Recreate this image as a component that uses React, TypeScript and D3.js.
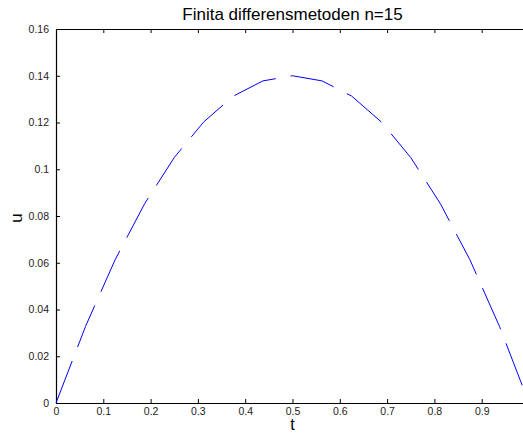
import React, {useEffect, useRef} from 'react'
import * as d3 from 'd3'

const width = 523
const height = 434
const margin = {top: 29, left: 56, plotRight: 529, bottom: 403}

// t = i/16, i = 0..16 (n=15 inre punkter)
const tValues = [
  0, 0.0625, 0.125, 0.1875, 0.25, 0.3125, 0.375, 0.4375, 0.5, 0.5625, 0.625,
  0.6875, 0.75, 0.8125, 0.875, 0.9375, 1,
]
const uValues = [
  0, 0.0328, 0.0613, 0.0853, 0.105, 0.1203, 0.1313, 0.1378, 0.14, 0.1378,
  0.1313, 0.1203, 0.105, 0.0853, 0.0613, 0.0328, 0,
]
const xTicks = [0, 0.1, 0.2, 0.3, 0.4, 0.5, 0.6, 0.7, 0.8, 0.9]
const yTicks = [0, 0.02, 0.04, 0.06, 0.08, 0.1, 0.12, 0.14, 0.16]
const title = 'Finita differensmetoden n=15'

const App = () => {
  const ref = useRef<SVGSVGElement>(null)

  useEffect(() => {
    const svg = d3.select(ref.current)
    svg.selectAll('*').remove()

    const x = d3.scaleLinear().domain([0, 1]).range([margin.left, margin.plotRight])
    const y = d3.scaleLinear().domain([0, 0.16]).range([margin.bottom, margin.top])

    const font = 'Liberation Sans, Arial, sans-serif'

    // bottom axis, ticks inward
    const xAxis = svg
      .append('g')
      .attr('transform', `translate(0,${margin.bottom})`)
      .call(
        d3.axisBottom(x).tickValues(xTicks).tickSizeInner(-4).tickSizeOuter(0)
          .tickPadding(5).tickFormat(d => String(d)),
      )
    xAxis.select('.domain').attr('stroke-width', 1.2)
    xAxis.selectAll('text').attr('font-family', font).attr('font-size', 10.5).attr('fill', '#222')

    // top axis, ticks only
    const topAxis = svg
      .append('g')
      .attr('transform', `translate(0,${margin.top})`)
      .call(d3.axisTop(x).tickValues(xTicks.slice(1)).tickSizeInner(-4).tickSizeOuter(0).tickFormat(() => ''))
    topAxis.select('.domain').attr('stroke-width', 1.2)

    const yAxis = svg
      .append('g')
      .attr('transform', `translate(${margin.left},0)`)
      .call(
        d3.axisLeft(y).tickValues(yTicks).tickSizeInner(-4).tickSizeOuter(0)
          .tickPadding(7).tickFormat(d => String(d)),
      )
    yAxis.select('.domain').attr('stroke-width', 1.2)
    yAxis.selectAll('text').attr('font-family', font).attr('font-size', 10.5).attr('fill', '#222')

    const line = d3
      .line<number>()
      .x((_, i) => x(tValues[i]))
      .y(d => y(d))

    svg
      .append('path')
      .datum(uValues)
      .attr('d', line)
      .attr('fill', 'none')
      .attr('stroke', '#0000ff')
      .attr('stroke-width', 1)
      .attr('stroke-dasharray', '45,15')

    svg
      .append('text')
      .attr('x', (margin.left + margin.plotRight) / 2)
      .attr('y', 20)
      .attr('text-anchor', 'middle')
      .attr('font-family', font)
      .attr('font-size', 17)
      .text(title)

    svg
      .append('text')
      .attr('x', (margin.left + margin.plotRight) / 2)
      .attr('y', 430)
      .attr('text-anchor', 'middle')
      .attr('font-family', font)
      .attr('font-size', 16)
      .text('t')

    svg
      .append('text')
      .attr('transform', `translate(22,218) rotate(-90)`)
      .attr('text-anchor', 'middle')
      .attr('font-family', font)
      .attr('font-size', 17)
      .text('u')
  }, [])

  return (
    <svg
      ref={ref}
      width={width}
      height={height}
      style={{position: 'absolute', left: 0, top: 0, background: '#fff'}}
    ></svg>
  )
}

export default App
